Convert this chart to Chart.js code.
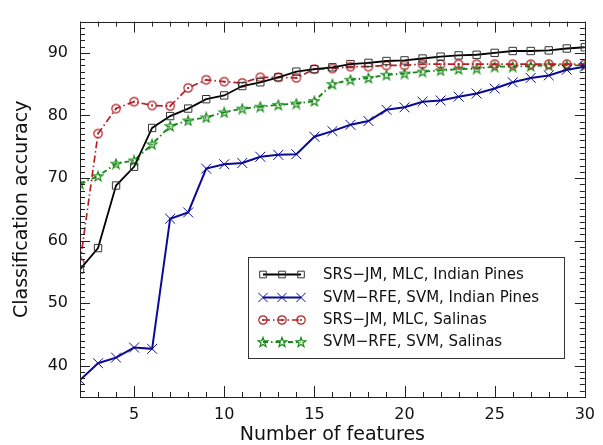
<!DOCTYPE html>
<html><head><meta charset="utf-8">
<script src="https://cdn.jsdelivr.net/npm/chart.js@4/dist/chart.umd.min.js"></script>
<style>html,body{margin:0;padding:0;background:#fff}#wrap{width:603px;height:445px}</style>
</head><body><div id="wrap"><canvas id="c" width="603" height="445"></canvas></div>
<script>
const features = [2,3,4,5,6,7,8,9,10,11,12,13,14,15,16,17,18,19,20,21,22,23,24,25,26,27,28,29,30];
const srsIndianPines = [55.4,58.8,68.8,71.8,78.0,79.9,81.1,82.6,83.2,84.7,85.3,86.1,87.0,87.4,87.7,88.2,88.4,88.7,88.8,89.1,89.4,89.6,89.7,90.0,90.3,90.3,90.4,90.7,90.9];
const svmIndianPines = [37.7,40.4,41.3,42.9,42.7,63.5,64.5,71.5,72.2,72.4,73.4,73.7,73.8,76.6,77.5,78.5,79.1,80.9,81.3,82.2,82.4,83.0,83.5,84.3,85.3,86.0,86.4,87.3,87.8];
const srsSalinas = [56.4,77.1,81.1,82.2,81.6,81.5,84.4,85.7,85.4,85.2,86.1,86.1,86.0,87.4,87.5,87.8,87.8,88.0,88.0,88.2,88.2,88.2,88.2,88.2,88.2,88.2,88.2,88.2,88.2];
const svmSalinas = [69.1,70.3,72.3,72.8,75.4,78.3,79.2,79.7,80.5,81.1,81.4,81.7,81.9,82.3,85.0,85.7,86.0,86.5,86.7,87.0,87.2,87.4,87.5,87.8,87.8,87.9,88.0,88.0,88.0];
const seriesLabels = ['SRS\u2212JM, MLC, Indian Pines','SVM\u2212RFE, SVM, Indian Pines','SRS\u2212JM, MLC, Salinas','SVM\u2212RFE, SVM, Salinas'];
const xTickLabels = [5,10,15,20,25,30];
const yTickLabels = [40,50,60,70,80,90];

const FONT = "'DejaVu Sans', 'Liberation Sans', Arial, sans-serif";
const BLACK = '#000000', BLUE = '#0b0b95', RED = '#b51f26', GREEN = '#168a16';

function circleDot(color){
  const c=document.createElement('canvas'); c.width=c.height=12;
  const g=c.getContext('2d'); g.strokeStyle=color; g.lineWidth=1.2;
  g.beginPath(); g.arc(6,6,4.2,0,2*Math.PI); g.stroke();
  g.fillStyle=color; g.beginPath(); g.arc(6,6,1,0,2*Math.PI); g.fill();
  return c;
}
function pentagram(color){
  const c=document.createElement('canvas'); c.width=c.height=12;
  const g=c.getContext('2d'); g.strokeStyle=color; g.lineWidth=1.2;
  const R=5, r=2; g.beginPath();
  for(let i=0;i<10;i++){const a=-Math.PI/2+i*Math.PI/5; const rr=i%2?r:R;
    const x=6+rr*Math.cos(a), y=6.4+rr*Math.sin(a); i?g.lineTo(x,y):g.moveTo(x,y);}
  g.closePath(); g.stroke(); return c;
}

const pts = arr => features.map((f,i)=>({x:f,y:arr[i]}));

const datasets = [
  {label:seriesLabels[0], data:pts(srsIndianPines), borderColor:BLACK, borderWidth:1.8,
   pointStyle:'rect', pointRadius:5.2, pointBorderColor:'#333', pointBackgroundColor:'rgba(0,0,0,0)', pointBorderWidth:1},
  {label:seriesLabels[1], data:pts(svmIndianPines), borderColor:BLUE, borderWidth:2,
   pointStyle:'crossRot', pointRadius:7, pointBorderColor:BLUE, pointBorderWidth:1},
  {label:seriesLabels[2], data:pts(srsSalinas), borderColor:RED, borderWidth:1.7, borderDash:[7,3,1.5,3],
   pointStyle:circleDot(RED), pointRadius:5},
  {label:seriesLabels[3], data:pts(svmSalinas), borderColor:GREEN, borderWidth:1.9, borderDash:[5,3,1.5,3],
   pointStyle:pentagram(GREEN), pointRadius:5}
];

const tickPlugin = {
  id:'inTicks',
  afterDatasetsDraw(chart){
    const {ctx, chartArea:a, scales:{x,y}} = chart;
    ctx.save(); ctx.strokeStyle='#222'; ctx.lineWidth=1;
    ctx.strokeRect(Math.round(a.left)+0.5, Math.round(a.top)+0.5, Math.round(a.right-a.left), Math.round(a.bottom-a.top));
    ctx.beginPath();
    for(let v=2; v<=30; v++){
      const px=Math.round(x.getPixelForValue(v))+0.5; const L = v%5===0?11:5;
      ctx.moveTo(px,a.bottom); ctx.lineTo(px,a.bottom-L);
      ctx.moveTo(px,a.top); ctx.lineTo(px,a.top+L);
    }
    for(let v=35; v<=95; v++){
      const py=Math.round(y.getPixelForValue(v))+0.5; const L = v%10===0?10:5;
      ctx.moveTo(a.left,py); ctx.lineTo(a.left+L,py);
      ctx.moveTo(a.right,py); ctx.lineTo(a.right-L,py);
    }
    ctx.stroke(); ctx.restore();
  }
};

const legendPlugin = {
  id:'boxLegend',
  afterDraw(chart){
    const ctx=chart.ctx;
    const bx=248, by=257, bw=316, bh=101;
    ctx.save();
    ctx.fillStyle='#fff'; ctx.fillRect(bx,by,bw,bh);
    ctx.strokeStyle='#333'; ctx.lineWidth=1; ctx.strokeRect(bx+0.5,by+0.5,bw,bh);
    const rows=[274.5,297.5,320,342];
    chart.data.datasets.forEach((ds,i)=>{
      const yy=rows[i];
      ctx.save();
      ctx.strokeStyle=ds.borderColor; ctx.lineWidth=ds.borderWidth;
      ctx.setLineDash(ds.borderDash||[]);
      ctx.beginPath(); ctx.moveTo(263,yy); ctx.lineTo(301,yy); ctx.stroke();
      ctx.setLineDash([]);
      [263,282,301].forEach(mx=>{
        if(ds.pointStyle instanceof HTMLCanvasElement){
          ctx.drawImage(ds.pointStyle, mx-ds.pointStyle.width/2, yy-ds.pointStyle.height/2);
        } else {
          ctx.strokeStyle=ds.pointBorderColor; ctx.fillStyle=ds.pointBackgroundColor||'rgba(0,0,0,0)';
          ctx.lineWidth=ds.pointBorderWidth;
          Chart.helpers.drawPoint(ctx,{pointStyle:ds.pointStyle,radius:ds.pointRadius-0.5,rotation:0,borderWidth:ds.pointBorderWidth},mx,yy);
        }
      });
      ctx.restore();
      ctx.fillStyle='#111'; ctx.font='15px '+FONT; ctx.textBaseline='middle'; ctx.textAlign='left';
      ctx.fillText(ds.label, 323, yy+0.5);
    });
    ctx.restore();
  }
};

new Chart(document.getElementById('c'), {
  type:'line',
  data:{datasets},
  options:{
    responsive:false, animation:false,
    layout:{padding:{left:0,right:13,top:10,bottom:0}},
    plugins:{legend:{display:false}, tooltip:{enabled:false}},
    elements:{line:{tension:0}},
    scales:{
      x:{type:'linear', min:2, max:30,
        afterBuildTicks(s){ s.ticks = xTickLabels.map(v=>({value:v})); },
        afterFit(s){ s.height=48; },
        grid:{display:false, drawTicks:false}, border:{display:false},
        ticks:{padding:8, color:'#111', font:{family:FONT,size:16}, maxRotation:0, autoSkip:false},
        title:{display:true, text:'Number of features', color:'#111', font:{family:FONT,size:19,lineHeight:1}, padding:{top:0,bottom:0}}
      },
      y:{type:'linear', min:35, max:95,
        afterBuildTicks(s){ s.ticks = yTickLabels.map(v=>({value:v})); },
        afterFit(s){ s.width=80; },
        grid:{display:false, drawTicks:false}, border:{display:false},
        ticks:{padding:12, color:'#111', font:{family:FONT,size:16}, autoSkip:false},
        title:{display:true, text:'Classification accuracy', color:'#111', font:{family:FONT,size:19,lineHeight:1}, padding:{top:13,bottom:0}}
      }
    }
  },
  plugins:[tickPlugin, legendPlugin]
});
</script></body></html>
